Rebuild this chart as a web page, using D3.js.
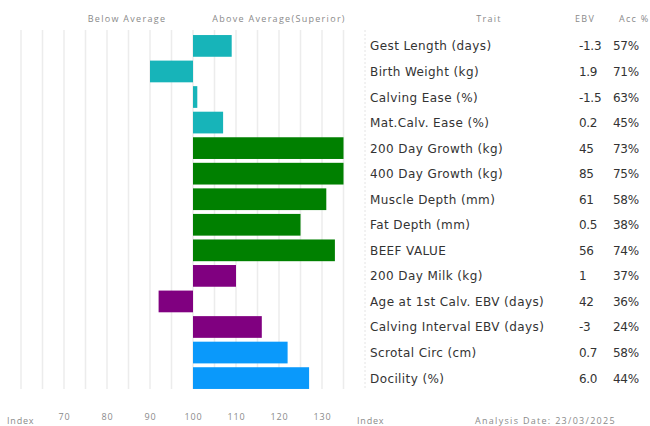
<!DOCTYPE html>
<html><head><meta charset="utf-8">
<script src="https://cdn.jsdelivr.net/npm/d3@7"></script>
<style>
html,body{margin:0;padding:0;background:#fff;}
svg{display:block;font-family:"Open Sans",sans-serif;}
</style></head>
<body><svg id="c" width="650" height="426"></svg>
<script>
const traits = ["Gest Length (days)","Birth Weight (kg)","Calving Ease (%)","Mat.Calv. Ease (%)","200 Day Growth (kg)","400 Day Growth (kg)","Muscle Depth (mm)","Fat Depth (mm)","BEEF VALUE","200 Day Milk (kg)","Age at 1st Calv. EBV (days)","Calving Interval EBV (days)","Scrotal Circ (cm)","Docility (%)"];
const indexValues = [109, 90, 101, 107, 135, 135, 131, 125, 133, 110, 92, 116, 122, 127];
const ebv = ["-1.3","1.9","-1.5","0.2","45","85","61","0.5","56","1","42","-3","0.7","6.0"];
const acc = ["57%","71%","63%","45%","73%","75%","58%","38%","74%","37%","36%","24%","58%","44%"];
const groups = ["calving","calving","calving","calving","growth","growth","growth","growth","growth","maternal","maternal","maternal","fertility","fertility"];
const groupColors = {calving:"#17b4b9", growth:"#008000", maternal:"#800080", fertility:"#0a99fb"};
const tickValues = [70,80,90,100,110,120,130];
const gridValues = d3.range(60,140,5);

const svg = d3.select("#c");
const x = d3.scaleLinear().domain([60,140]).range([21,365]);
const y = d3.scaleBand().domain(traits).range([33,391]).paddingInner(0.15).paddingOuter(0.08);

// gridlines
svg.append("g").selectAll("line").data(gridValues).join("line")
  .attr("x1",d=>x(d)).attr("x2",d=>x(d)).attr("y1",30).attr("y2",389)
  .attr("stroke","#ececec").attr("stroke-width",1.5);
// separator
svg.append("line").attr("x1",x(140)).attr("x2",x(140)).attr("y1",30).attr("y2",389)
  .attr("stroke","#e4e4e4").attr("stroke-width",1).attr("stroke-dasharray","2,2");

// bars
svg.append("g").selectAll("rect").data(traits).join("rect")
  .attr("x",(d,i)=>x(Math.min(100,indexValues[i])))
  .attr("width",(d,i)=>Math.max(1.5,Math.abs(x(indexValues[i])-x(100))))
  .attr("y",d=>y(d)).attr("height",y.bandwidth())
  .attr("fill",(d,i)=>groupColors[groups[i]]);

// headers
const hdr = svg.append("g").attr("fill","#8a8a8a").attr("font-size",9).attr("letter-spacing",1.3);
hdr.append("text").attr("x",127).attr("y",22).attr("text-anchor","middle").text("Below Average");
hdr.append("text").attr("x",279).attr("y",22).attr("text-anchor","middle").text("Above Average(Superior)");
hdr.append("text").attr("x",489).attr("y",22).attr("text-anchor","middle").text("Trait");
hdr.append("text").attr("x",575).attr("y",22).text("EBV");
hdr.append("text").attr("x",619).attr("y",22).text("Acc %");

// table
const tbl = svg.append("g").attr("fill","#333").attr("font-size",12).attr("font-family","'DejaVu Sans',sans-serif").attr("letter-spacing",0.4);
tbl.selectAll("text.t").data(traits).join("text").attr("class","t")
  .attr("x",370).attr("y",d=>y(d)+y.bandwidth()/2+4.5).text(d=>d);
tbl.selectAll("text.e").data(ebv).join("text").attr("class","e")
  .attr("x",579).attr("y",(d,i)=>y(traits[i])+y.bandwidth()/2+4.5).attr("letter-spacing",-0.3).text(d=>d);
tbl.selectAll("text.a").data(acc).join("text").attr("class","a")
  .attr("x",613).attr("y",(d,i)=>y(traits[i])+y.bandwidth()/2+4.5).attr("letter-spacing",-0.3).text(d=>d);

// bottom axis labels
const axis = d3.axisBottom(x).tickValues(tickValues).tickSize(0).tickPadding(0);
const ag = svg.append("g").attr("transform","translate(0,414)").call(axis);
ag.select(".domain").remove();
ag.selectAll("text").attr("fill","#8a8a8a").attr("font-size",9).attr("font-family","'Open Sans',sans-serif").attr("letter-spacing",0.8);
const bt = svg.append("g").attr("fill","#8a8a8a").attr("font-size",9).attr("letter-spacing",0.8);
bt.append("text").attr("x",7).attr("y",424).text("Index");
bt.append("text").attr("x",357).attr("y",424).text("Index");
bt.append("text").attr("x",475).attr("y",424).attr("letter-spacing",1.3).text("Analysis Date: 23/03/2025");
</script></body></html>
